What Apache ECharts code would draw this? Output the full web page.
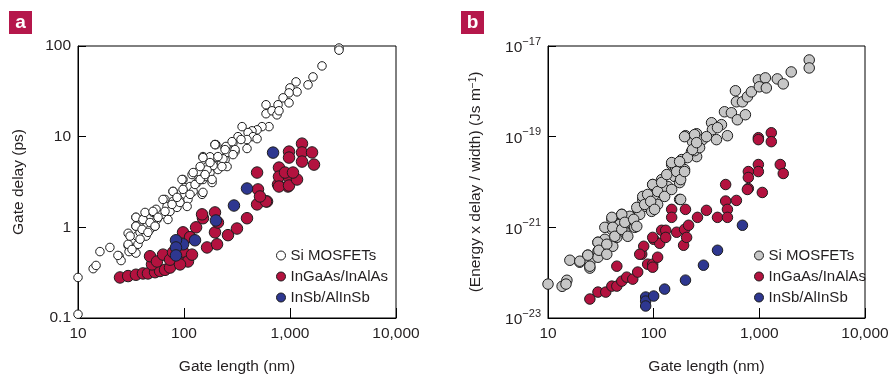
<!DOCTYPE html>
<html><head><meta charset="utf-8">
<script src="https://cdn.jsdelivr.net/npm/echarts@6/dist/echarts.min.js"></script>
<style>html,body{margin:0;padding:0;background:#fff}#c{width:889px;height:376px}</style>
</head><body><div id="c"></div>
<script>
// ---------- Tick values ----------
const xTickValues = [10, 100, 1000, 10000];
const yTickValuesA = [0.1, 1, 10, 100];
const yTickValuesB = [1e-23, 1e-21, 1e-19, 1e-17];

// ---------- Panel a: gate delay (ps) vs gate length (nm) ----------
const siLenA = [10,10,13.9,14.8,16.1,20,24.4,25.5,29.7,30.3,32.3,29.7,35.2,35.2,36,38.5,36.8,35.2,41,44.8,43.8,47.8,51,54.5,55.6,53.3,62,66.2,69.2,73.8,78.8,78.8,85.9,91.7,97.9,102,102,109,114,119,122,133,136,148,151,151,165,176,188,184,200,205,209,244,244,255,290,303,323,2900,2900,2004,1648,1479,1140,1000,1165,979,860,979,771,594,594,677,754,787,634,544,489,438,402,353,448,489,393,345,303,393,249,255,196,233,176,188,165,151,158,
  23.8,29.7,31.0,32.3,35.2,35.2,38.5,40.2,41.0,42.9,45.7,47.8,51.0,53.3,56.9,63.4,66.2,70.6,77.1,78.8,85.9,95.7,97.9,107,114,122,127,142,142,151,158,176,184,196,209,228,244,284,290];
const siDelayA = [0.28,0.11,0.35,0.38,0.54,0.60,0.48,0.43,0.63,0.54,0.72,0.86,1.29,1.03,0.80,0.88,0.65,0.52,1.22,1.03,0.80,0.95,1.46,1.58,1.22,1.03,1.39,2.03,1.70,1.50,2.49,1.93,1.66,1.88,3.37,2.75,2.31,2.03,2.82,3.82,2.49,3.12,4.12,2.31,6.03,3.37,4.68,4.02,5.18,3.12,8.17,5.88,4.34,7.57,5.59,4.68,8.59,6.84,10.0,95,90,60.3,45.6,37.3,40.2,34.5,31.2,30.4,26.8,23.6,22.5,22.5,17.9,19.3,17.4,19.3,12.9,12.9,11.9,11.6,11.1,12.9,10.0,9.5,9.3,9.3,7.2,7.4,7.8,6.7,8.2,5.7,6.0,4.8,4.3,2.43,3.63,
  0.49,0.65,0.80,0.57,1.03,1.29,0.74,0.95,1.22,1.46,0.88,1.13,1.50,1.03,1.29,2.03,1.50,1.22,1.79,2.49,2.14,3.37,2.62,1.70,2.31,4.02,2.97,4.68,3.37,5.88,3.82,5.18,3.37,8.17,6.03,4.68,7.2,8.81,6.34];
const ingaasLenA = [24.9,29.7,35.2,41,45.7,53.3,59.4,66.2,73.8,49.9,47.8,55.6,63.4,73.8,78.8,87.7,97.9,109,97.9,114,119,130,151,148,165,196,196,205,209,260,316,91.7,393,489,499,607,771,957,489,594,787,787,787,979,979,979,979,1165,1298,1298,1298,1614,1684,897,1067,521];
const ingaasDelayA = [0.28,0.29,0.30,0.31,0.31,0.32,0.33,0.34,0.36,0.39,0.48,0.42,0.50,0.44,0.53,0.48,0.54,0.42,0.88,0.78,0.50,1.0,1.26,1.39,0.60,1.46,0.88,0.65,1.13,0.82,0.97,0.39,1.26,1.79,2.62,1.93,2.97,2.82,4.02,1.93,4.56,3.63,2.82,6.84,5.88,3.54,2.89,3.37,8.38,6.7,5.31,6.7,4.92,4.02,4.02,2.19];
const insbLenA = [692,393,296,200,127,98,84,84,84];
const insbDelayA = [6.67,2.68,1.74,1.19,0.72,0.65,0.72,0.60,0.49];

// ---------- Panel b: energy x delay / width (J s m^-1) vs gate length (nm) ----------
const siLenB = [10,13.6,15.1,14.8,16.1,20,23.8,24.9,24.9,29.7,29.7,29.7,34.5,36,40.2,40.2,41,44.8,49.9,49.9,53.3,59.4,63.4,66.2,70.6,78.8,82.2,87.7,95.7,97.9,109,119,122,136,148,158,176,176,184,196,228,255,244,233,200,255,290,353,360,393,438,499,468,544,620,738,594,607,692,771,841,979,1000,1140,1165,1479,1684,2004,2966,2966,47.8,73.8,102,127,161,209,272,316,402,
  20.0,23.8,24.9,29.7,30.3,36.0,36.0,34.5,40.2,41.0,42.9,49.9,49.9,53.3,56.9,64.7,69.2,69.2,78.8,82.2,87.7,93.7,97.9,102,109,119,127,133,148,148,165,176,180,196,180,196,233,244,255];
const siEdwB = [5.6e-23,5.0e-23,6.8e-23,5.6e-23,1.88e-22,1.70e-22,2.43e-22,1.70e-22,1.26e-22,4.68e-22,2.97e-22,2.19e-22,5.45e-22,3.63e-22,1.50e-21,9.0e-22,3.82e-22,6.0e-22,1.93e-21,1.36e-21,7.8e-22,1.75e-21,1.16e-21,1.0e-21,2.49e-21,4.12e-21,2.90e-21,4.80e-21,2.25e-21,8.8e-21,3.20e-21,1.13e-20,6.2e-21,7.96e-21,2.43e-20,1.32e-20,9.7e-21,4.12e-21,3.12e-20,1.88e-20,4.68e-20,3.63e-20,4.92e-20,7.76e-20,1.05e-19,1.16e-19,8.6e-20,2.03e-19,1.43e-19,8.6e-20,1.84e-19,1.05e-19,3.54e-19,3.37e-19,2.36e-19,3.05e-19,1.03e-18,5.88e-19,5.88e-19,7.57e-19,9.75e-19,1.79e-18,1.26e-18,1.98e-18,1.19e-18,1.88e-18,1.46e-18,2.68e-18,4.92e-18,3.28e-18,1.16e-21,1.93e-21,5.3e-21,6.8e-21,2.08e-20,3.45e-20,5.73e-20,1.0e-19,1.58e-19,
  1.79e-22,2.43e-22,1.39e-22,4.68e-22,3.12e-22,4.23e-22,2.55e-22,1.0e-21,1.66e-21,1.0e-21,6.34e-22,1.93e-21,9.0e-22,1.29e-21,6.34e-22,1.50e-21,2.75e-21,1.05e-21,4.80e-21,3.20e-21,5.31e-21,3.73e-21,8.8e-21,2.49e-21,6.18e-21,9.75e-21,4.80e-21,1.46e-20,6.84e-21,2.68e-20,1.70e-20,2.82e-20,1.13e-20,1.70e-20,4.12e-21,1.0e-19,5.18e-20,1.11e-19,7.38e-20];
const ingaasLenB = [24.9,29.7,35.2,40.2,44.8,49.9,55.6,63.4,70.6,44.8,77.1,80.5,87.7,97.9,97.9,109,100,114,119,130,130,148,148,165,192,196,205,200,214,260,316,402,480,480,499,499,607,979,979,1298,1298,979,979,787,787,787,1578,1684,1067,771,97.9,73.8];
const ingaasEdwB = [2.62e-23,3.73e-23,3.73e-23,5.05e-23,5.05e-23,6.5e-23,7.96e-23,7.2e-23,1.03e-22,1.39e-22,2.55e-22,3.82e-22,1.54e-22,1.54e-22,1.32e-22,2.19e-22,5.45e-22,4.45e-22,8.6e-22,8.6e-22,6.0e-22,2.49e-21,1.66e-21,7.8e-22,4.02e-22,9.0e-22,6.0e-22,2.49e-21,1.11e-21,1.66e-21,2.37e-21,1.66e-21,8.8e-21,3.8e-21,2.49e-21,1.66e-21,3.92e-21,9.5e-20,8.6e-20,1.22e-19,7.76e-20,2.43e-20,1.70e-20,1.70e-20,1.26e-20,7.2e-21,2.43e-20,1.54e-20,5.88e-21,6.84e-21,6.0e-22,2.55e-22];
const insbLenB = [84,84,84,100,127,200,296,402,692];
const insbEdwB = [2.9e-23,2.36e-23,1.84e-23,3.05e-23,4.34e-23,6.84e-23,1.46e-22,3.12e-22,1.11e-21];

const seriesNames = ['Si MOSFETs', 'InGaAs/InAlAs', 'InSb/AlInSb'];
const panelLetters = ['a', 'b'];
const axisTitles = ['Gate length (nm)', 'Gate delay (ps)', '(Energy x delay / width) (Js m{sup|\u22121})'];

// Panel b is plotted in units of 1e-23 J s m^-1 (ECharts' log scale rounds tiny tick values to 0);
// the tick labels convert back to the real exponent.
const EDW_UNIT = 1e-23;
const EDW_UNIT_EXP = -23;

// ---------- styling ----------
const FONT = '"Liberation Sans", Arial, Helvetica, sans-serif';
const INK = '#231f20';
const RED = '#b3123f';
const BLUE = '#2e3790';
const GRAY = '#c6c6c6';
const BORDER = '#1d1d1d';

const zip = (a, b, s) => a.map((v, i) => [v, b[i] / (s || 1)]);

function xAxisFor(gridIndex) {
  return {
    type: 'log', logBase: 10, gridIndex, min: xTickValues[0], max: xTickValues[xTickValues.length - 1],
    name: axisTitles[0], nameLocation: 'middle', nameGap: 41,
    nameTextStyle: { fontFamily: FONT, fontSize: 15.5, color: INK },
    axisLine: { show: true, lineStyle: { color: '#000', width: 1 } },
    axisTick: { show: true, inside: true, length: 10, lineStyle: { color: '#000' } },
    splitLine: { show: false }, minorTick: { show: false },
    axisLabel: {
      fontFamily: FONT, fontSize: 15.5, color: INK, margin: 8,
      showMinLabel: true, showMaxLabel: true,
      formatter: v => Math.round(v).toLocaleString('en-US')
    }
  };
}

const option = {
  animation: false,
  backgroundColor: '#fff',
  textStyle: { fontFamily: FONT },
  grid: [
    { left: 78, top: 46, width: 318, height: 272, show: true, borderColor: '#000', borderWidth: 1, containLabel: false, outerBoundsMode: 'none' },
    { left: 548, top: 46, width: 317, height: 272, show: true, borderColor: '#000', borderWidth: 1, containLabel: false, outerBoundsMode: 'none' }
  ],
  xAxis: [xAxisFor(0), xAxisFor(1)],
  yAxis: [
    {
      type: 'log', logBase: 10, gridIndex: 0, min: yTickValuesA[0], max: yTickValuesA[yTickValuesA.length - 1],
      name: axisTitles[1], nameLocation: 'middle', nameGap: 51, nameRotate: 90,
      nameTextStyle: { fontFamily: FONT, fontSize: 15.5, color: INK },
      axisLine: { show: true, lineStyle: { color: '#000', width: 1 } },
      axisTick: { show: true, inside: true, length: 8, lineStyle: { color: '#000' } },
      splitLine: { show: false }, minorTick: { show: false },
      axisLabel: {
        fontFamily: FONT, fontSize: 15.5, color: INK, margin: 7,
        showMinLabel: true, showMaxLabel: true,
        formatter: v => (v >= 1 ? String(Math.round(v)) : String(+v.toPrecision(1)))
      }
    },
    {
      type: 'log', logBase: 10, gridIndex: 1,
      min: yTickValuesB[0] / EDW_UNIT, max: yTickValuesB[yTickValuesB.length - 1] / EDW_UNIT, interval: 2,
      name: axisTitles[2], nameLocation: 'middle', nameGap: 64, nameRotate: 90,
      nameTextStyle: { fontFamily: FONT, fontSize: 15.5, color: INK,
        rich: { sup: { fontFamily: FONT, fontSize: 10, color: INK, verticalAlign: 'top', lineHeight: 10 } } },
      axisLine: { show: true, lineStyle: { color: '#000', width: 1 } },
      axisTick: { show: true, inside: true, length: 8, lineStyle: { color: '#000' } },
      splitLine: { show: false }, minorTick: { show: false },
      axisLabel: {
        fontFamily: FONT, color: INK, margin: 7,
        showMinLabel: true, showMaxLabel: true,
        formatter: v => {
          const e = Math.round(Math.log10(v)) + EDW_UNIT_EXP;
          return '{b|10}{s|' + (e < 0 ? '\u2212' : '') + Math.abs(e) + '}';
        },
        rich: {
          b: { fontFamily: FONT, fontSize: 15.5, color: INK, lineHeight: 20, verticalAlign: 'bottom' },
          s: { fontFamily: FONT, fontSize: 11, color: INK, lineHeight: 11, verticalAlign: 'top' }
        }
      }
    }
  ],
  legend: [
    {
      orient: 'vertical', left: 271, top: 242, itemWidth: 9, itemHeight: 9, itemGap: 4, icon: 'circle',
      textStyle: { fontFamily: FONT, fontSize: 15, color: INK, lineHeight: 17 },
      selectedMode: false,
      data: [
        { name: seriesNames[0], itemStyle: { color: '#fff', borderColor: BORDER, borderWidth: 1 } },
        { name: seriesNames[1], itemStyle: { color: RED, borderColor: BORDER, borderWidth: 1 } },
        { name: seriesNames[2], itemStyle: { color: BLUE, borderColor: BORDER, borderWidth: 1 } }
      ]
    },
    {
      orient: 'vertical', left: 749, top: 242, itemWidth: 9, itemHeight: 9, itemGap: 4, icon: 'circle',
      textStyle: { fontFamily: FONT, fontSize: 15, color: INK, lineHeight: 17 },
      selectedMode: false,
      data: [
        { name: seriesNames[0], itemStyle: { color: GRAY, borderColor: BORDER, borderWidth: 1 } },
        { name: seriesNames[1], itemStyle: { color: RED, borderColor: BORDER, borderWidth: 1 } },
        { name: seriesNames[2], itemStyle: { color: BLUE, borderColor: BORDER, borderWidth: 1 } }
      ]
    }
  ],
  graphic: panelLetters.map((t, i) => ({
    type: 'group', left: i === 0 ? 9 : 461, top: 11,
    children: [
      { type: 'rect', shape: { x: 0, y: 0, width: 23, height: 23 }, style: { fill: '#b5174b' } },
      { type: 'text', x: 11.5, y: 12, style: { text: t, fill: '#fff', font: 'bold 19px ' + FONT, align: 'center', verticalAlign: 'middle' } }
    ]
  })),
  series: [
    { name: seriesNames[0], type: 'scatter', xAxisIndex: 0, yAxisIndex: 0, clip: false, symbolSize: 8.5,
      itemStyle: { color: '#fff', borderColor: BORDER, borderWidth: 1, opacity: 1 }, data: zip(siLenA, siDelayA) },
    { name: seriesNames[1], type: 'scatter', xAxisIndex: 0, yAxisIndex: 0, clip: false, symbolSize: 11.5,
      itemStyle: { color: RED, borderColor: BORDER, borderWidth: 1, opacity: 1 }, data: zip(ingaasLenA, ingaasDelayA) },
    { name: seriesNames[2], type: 'scatter', xAxisIndex: 0, yAxisIndex: 0, clip: false, symbolSize: 11.5,
      itemStyle: { color: BLUE, borderColor: BORDER, borderWidth: 1, opacity: 1 }, data: zip(insbLenA, insbDelayA) },
    { name: seriesNames[0], type: 'scatter', xAxisIndex: 1, yAxisIndex: 1, clip: false, symbolSize: 10.5,
      itemStyle: { color: GRAY, borderColor: BORDER, borderWidth: 1, opacity: 1 }, data: zip(siLenB, siEdwB, EDW_UNIT) },
    { name: seriesNames[1], type: 'scatter', xAxisIndex: 1, yAxisIndex: 1, clip: false, symbolSize: 10.5,
      itemStyle: { color: RED, borderColor: BORDER, borderWidth: 1, opacity: 1 }, data: zip(ingaasLenB, ingaasEdwB, EDW_UNIT) },
    { name: seriesNames[2], type: 'scatter', xAxisIndex: 1, yAxisIndex: 1, clip: false, symbolSize: 10.5,
      itemStyle: { color: BLUE, borderColor: BORDER, borderWidth: 1, opacity: 1 }, data: zip(insbLenB, insbEdwB, EDW_UNIT) }
  ]
};

const chart = echarts.init(document.getElementById('c'), null, { renderer: 'canvas' });
chart.setOption(option);
</script>
</body></html>
